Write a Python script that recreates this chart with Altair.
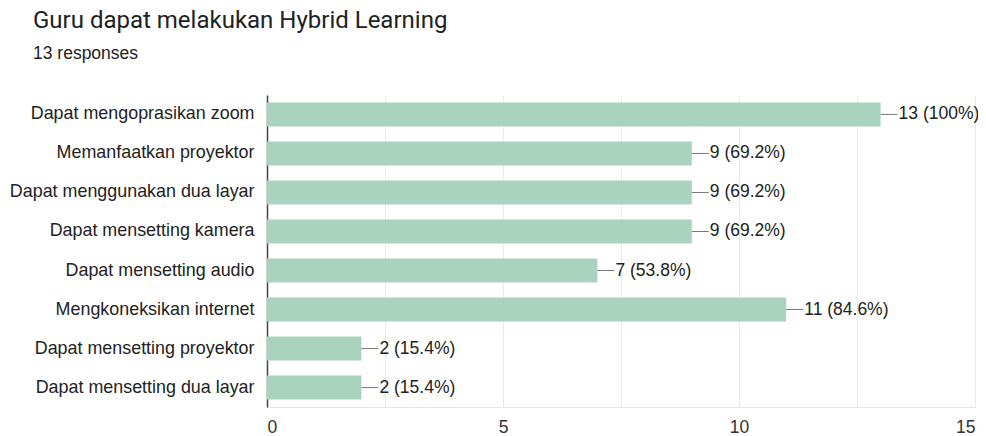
import altair as alt
import pandas as pd

categories = [
    "Dapat mengoprasikan zoom",
    "Memanfaatkan proyektor",
    "Dapat menggunakan dua layar",
    "Dapat mensetting kamera",
    "Dapat mensetting audio",
    "Mengkoneksikan internet",
    "Dapat mensetting proyektor",
    "Dapat mensetting dua layar",
]
counts = [13, 9, 9, 9, 7, 11, 2, 2]
percents = ["100%", "69.2%", "69.2%", "69.2%", "53.8%", "84.6%", "15.4%", "15.4%"]
x_ticks = [0, 2.5, 5, 7.5, 10, 12.5, 15]

df = pd.DataFrame({
    "cat": categories,
    "count": counts,
    "label": [f"{c} ({p})" for c, p in zip(counts, percents)],
})

FONT = "Liberation Sans"
BAR = "#a9d2bf"
FS = 17.5

y = alt.Y("cat:N", sort=categories, title=None,
          scale=alt.Scale(paddingInner=0.385, paddingOuter=0.19),
          axis=alt.Axis(domain=True, domainColor="#444", domainWidth=1.5, ticks=False,
                        labelPadding=13, labelFontSize=17.9, labelColor="#222",
                        labelFont=FONT, labelLimit=400))
x = alt.X("count:Q", title=None, scale=alt.Scale(domain=[0, 15], nice=False),
          axis=alt.Axis(values=x_ticks, labelExpr="datum.value % 5 == 0 ? datum.label : ''",
                        grid=True, gridColor="#e9e9e9", domain=True, domainColor="#e6e6e6",
                        ticks=False, labelPadding=11, labelFontSize=FS, labelColor="#333",
                        labelFont=FONT))

base = alt.Chart(df)
bars = base.mark_bar(color=BAR).encode(x=x, y=y)
conn = base.transform_calculate(end="datum.count + 0.36").mark_rule(
    color="#777", strokeWidth=1).encode(x="count:Q", x2="end:Q", y=alt.Y("cat:N", sort=categories))
text = base.mark_text(align="left", baseline="middle", dx=18, fontSize=FS,
                      color="#222", font=FONT).encode(
    x="count:Q", y=alt.Y("cat:N", sort=categories), text="label:N")

chart = alt.layer(bars, conn, text).properties(
    width=708, height=312,
    title=alt.TitleParams(
        text="Guru dapat melakukan Hybrid Learning",
        subtitle="13 responses",
        anchor="start", frame="group", dx=-234, offset=33,
        font="Roboto", fontSize=24, fontWeight="normal", color="#202124",
        subtitleFont=FONT, subtitleFontSize=FS, subtitleColor="#222", subtitlePadding=12,
    ),
    autosize=alt.AutoSizeParams(type="none"),
    padding={"left": 259, "top": 87, "right": 3, "bottom": 32},
).configure_view(stroke=None)

chart.save("out.html", embed_options={"renderer": "svg", "actions": False})
